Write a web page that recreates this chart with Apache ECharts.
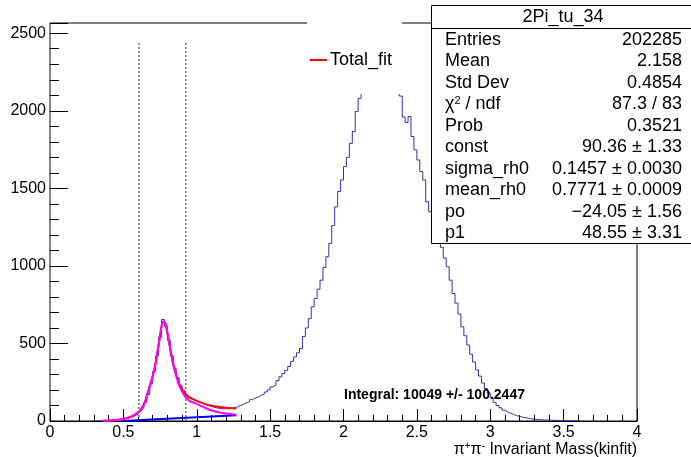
<!DOCTYPE html>
<html><head><meta charset="utf-8">
<script src="https://cdn.jsdelivr.net/npm/echarts@6/dist/echarts.min.js"></script>
<style>html,body{margin:0;padding:0;background:#fff}#c{width:691px;height:457px}</style>
</head><body><div id="c"></div>
<script>
// ---- data ----
const binLow = 0.30;
const binWidth = 0.02;
const counts = [
  0,1,2,2,3,4,5,7,9,12,
  16,20,26,33,44,60,85,120,170,240,
  320,420,540,655,610,520,420,340,280,230,
  195,170,150,140,130,125,115,108,100,95,
  88,84,80,78,80,79,82,86,92,100,
  108,118,125,138,148,155,166,172,187,200,
  220,232,260,285,305,327,352,385,413,440,
  467,545,600,660,736,790,850,908,990,1059,
  1145,1260,1381,1480,1554,1640,1700,1790,1866,1995,
  2080,2150,2220,2290,2350,2390,2420,2440,2430,2400,
  2360,2300,2240,2170,2095,1960,1925,1963,1834,1748,
  1683,1608,1554,1414,1349,1290,1230,1180,1120,1050,
  994,908,822,760,690,607,550,490,430,380,
  330,290,245,210,180,150,120,100,85,70,
  58,50,42,35,30,25,21,18,14,12,
  10,8,7,6,5,5,4,4,3,3,
  3,2,2,2,1
];
const fitX =      [0.36,0.40,0.45,0.50,0.55,0.60,0.625,0.65,0.675,0.70,0.72,0.74,0.76,0.77,0.78,0.79,0.80,0.82,0.84,0.86,0.88,0.90,0.92,0.95,1.00,1.05,1.10,1.15,1.20,1.27];
const totalFit =  [1,3,6,13,27,55,80,130,210,290,375,490,610,640,640,615,570,465,370,300,242,205,177,152,130,112,98,90,85,80];
const signalFit = [1,3,6,13,27,55,80,130,210,290,375,490,610,640,640,615,568,460,362,290,230,190,158,130,110,88,68,56,48,41];
const bgX = [0.495, 1.27];
const bgY = [0, 37.6];
const cutLines = [0.606, 0.925];
const cutTop = 2438;
const xTicks = {min: 0, max: 4, interval: 0.5};
const yTicks = {min: 0, max: 2566, interval: 500};
const statsTitle = '2Pi_tu_34';
const statsLabels = ['Entries','Mean','Std Dev','CHI','Prob','const','sigma_rh0','mean_rh0','po','p1'];
const statsValues = ['202285','2.158','0.4854','87.3 / 83','0.3521','90.36 \u00b1 1.33','0.1457 \u00b1 0.0030','0.7771 \u00b1 0.0009','\u221224.05 \u00b1 1.56','48.55 \u00b1 3.31'];
const integralText = 'Integral: 10049 +/- 100.2447';
const legendText = 'Total_fit';

// ---- build ----
const histData = counts.map((c, i) => [binLow + i * binWidth, c]);
histData.push([binLow + counts.length * binWidth, 0]);
const FONT = '"Liberation Sans", Arial, Helvetica, sans-serif';

const chart = echarts.init(document.getElementById('c'), null, {renderer: 'canvas'});

const graphics = [];
graphics.push({type:'rect', z:100, shape:{x:307, y:12, width:95, height:82}, style:{fill:'#fff'}});
graphics.push({type:'line', z:101, shape:{x1:310, y1:60, x2:327, y2:60}, style:{stroke:'#ff0000', lineWidth:2}});
graphics.push({type:'text', z:101, x:330, y:60, style:{text:legendText, font:'18px ' + FONT, fill:'#000', verticalAlign:'middle'}});
graphics.push({type:'rect', z:100, shape:{x:431.5, y:5.5, width:270, height:238}, style:{fill:'#fff', stroke:'#000', lineWidth:1}});
graphics.push({type:'line', z:101, shape:{x1:431.5, y1:28.5, x2:691, y2:28.5}, style:{stroke:'#000', lineWidth:1}});
graphics.push({type:'text', z:101, x:563, y:17, style:{text:statsTitle, font:'18px ' + FONT, fill:'#000', align:'center', verticalAlign:'middle'}});
statsLabels.forEach((lab, i) => {
  const y = 40 + i * 21.5;
  if (lab === 'CHI') {
    graphics.push({type:'text', z:101, x:445, y:y, style:{text:'{a|\u03c7}{s|2}{a| / ndf}', fill:'#000', verticalAlign:'middle',
      rich:{a:{font:'18px ' + FONT, fill:'#000'}, s:{font:'11px ' + FONT, fill:'#000', padding:[0,0,8,0]}}}});
  } else {
    graphics.push({type:'text', z:101, x:445, y:y, style:{text:lab, font:'18px ' + FONT, fill:'#000', verticalAlign:'middle'}});
  }
  graphics.push({type:'text', z:101, x:682, y:y, style:{text:statsValues[i], font:'18px ' + FONT, fill:'#000', align:'right', verticalAlign:'middle'}});
});
graphics.push({type:'text', z:101, x:344, y:395, style:{text:integralText, font:'bold 14px ' + FONT, fill:'#000', verticalAlign:'middle'}});
graphics.push({type:'text', z:101, x:637, y:450, style:{text:'{a|\u03c0}{s|+}{a|\u03c0}{s|-}{a| Invariant Mass(kinfit)}', align:'right', verticalAlign:'middle',
  rich:{a:{font:'16px ' + FONT, fill:'#000'}, s:{font:'10px ' + FONT, fill:'#000', padding:[0,0,8,0]}}}});

chart.setOption({
  animation: false,
  backgroundColor: '#fff',
  grid: {left: 50, right: 54, top: 23, bottom: 36, show: true, borderColor: '#000', borderWidth: 1, backgroundColor: 'transparent'},
  xAxis: {
    type: 'value', min: xTicks.min, max: xTicks.max, interval: xTicks.interval,
    axisLine: {show: true, onZero: false, lineStyle: {color: '#000', width: 1}},
    axisTick: {show: true, inside: true, length: 12, lineStyle: {color: '#000'}},
    minorTick: {show: true, splitNumber: 5, length: 6, lineStyle: {color: '#000'}},
    splitLine: {show: false},
    axisLabel: {fontSize: 16, fontFamily: FONT, color: '#000', margin: 4}
  },
  yAxis: {
    type: 'value', min: yTicks.min, max: yTicks.max, interval: yTicks.interval,
    axisLine: {show: true, lineStyle: {color: '#888', width: 1}},
    axisTick: {show: true, inside: true, length: 18, lineStyle: {color: '#000'}},
    minorTick: {show: true, splitNumber: 5, length: 9, lineStyle: {color: '#000'}},
    splitLine: {show: false},
    axisLabel: {fontSize: 16, fontFamily: FONT, color: '#000', margin: 4, showMaxLabel: false,
      formatter: v => (v % 500 === 0 ? String(v) : '')}
  },
  series: [
    {type: 'line', step: 'end', data: histData, symbol: 'none', lineStyle: {color: '#3030b4', width: 1}, z: 2},
    {type: 'line', data: [[cutLines[0], 0], [cutLines[0], cutTop]], symbol: 'none', lineStyle: {color: '#707070', width: 1.5, type: [2, 2]}, z: 3},
    {type: 'line', data: [[cutLines[1], 0], [cutLines[1], cutTop]], symbol: 'none', lineStyle: {color: '#707070', width: 1.5, type: [2, 2]}, z: 3},
    {type: 'line', data: bgX.map((x, i) => [x, bgY[i]]), symbol: 'none', lineStyle: {color: '#0000ff', width: 2}, z: 4},
    {type: 'line', data: fitX.map((x, i) => [x, totalFit[i]]), symbol: 'none', smooth: 0.3, lineStyle: {color: '#ff0000', width: 2}, z: 5},
    {type: 'line', data: fitX.map((x, i) => [x, signalFit[i]]), symbol: 'none', smooth: 0.3, lineStyle: {color: '#ff00ff', width: 2}, z: 6}
  ],
  graphic: graphics
});
</script></body></html>
